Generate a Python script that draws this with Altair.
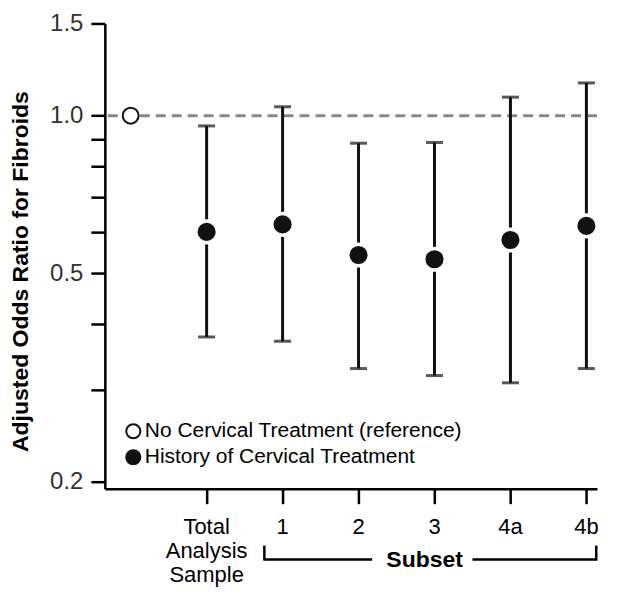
import altair as alt
import pandas as pd

# ---- data ----
groups = ["Reference", "Total", "1", "2", "3", "4a", "4b"]
positions = [0, 1, 2, 3, 4, 5, 6]
odds_ratio = [1.0, 0.600, 0.620, 0.542, 0.532, 0.579, 0.616]
ci_lower = [None, 0.378, 0.371, 0.329, 0.319, 0.309, 0.329]
ci_upper = [None, 0.956, 1.040, 0.886, 0.889, 1.085, 1.155]
series_names = ["No Cervical Treatment (reference)", "History of Cervical Treatment"]
series = [series_names[0]] + [series_names[1]] * 6

x_tick_positions = [1, 2, 3, 4, 5, 6]
x_tick_labels = ["Total\nAnalysis\nSample", "1", "2", "3", "4a", "4b"]
y_tick_values = [0.2, 0.3, 0.4, 0.5, 0.6, 0.7, 0.8, 0.9, 1.0, 1.5]
y_labelled = [0.2, 0.5, 1.0, 1.5]
reference_value = [1.0]

# subset bracket annotation (x in data units)
bracket_left = [1.76, 4.50]
bracket_right = [3.18, 6.13]
bracket_ends = [1.76, 6.13]
subset_label_x = [3.87]

W, H = 493, 466
FONT = "Liberation Sans"

df = pd.DataFrame({
    "group": groups, "pos": positions, "or": odds_ratio,
    "lo": ci_lower, "hi": ci_upper, "series": series,
})

xscale = alt.Scale(domain=[-0.34, 6.14], nice=False, zero=False)
yscale = alt.Scale(type="log", domain=[0.194, 1.5], nice=False)

x_enc = alt.X("pos:Q", scale=xscale,
              axis=alt.Axis(values=x_tick_positions, labels=False, title=None,
                            grid=False, tickSize=15, tickWidth=2.5, tickColor="black",
                            domainColor="black", domainWidth=2.5))

label_expr = "indexof([0.2, 0.5, 1, 1.5], datum.value) >= 0 ? format(datum.value, '.1f') : ''"

y_axis = alt.Axis(values=y_tick_values, labelExpr=label_expr, labelOverlap=False,
                  labelFontSize=24, labelColor="#333333", labelPadding=8,
                  tickSize=14, tickWidth=2.5, tickColor="black",
                  domainColor="black", domainWidth=2.5, grid=False,
                  title="Adjusted Odds Ratio for Fibroids", titleFontSize=23,
                  titleFontWeight="bold", titleColor="black",
                  titleX=-72, titleY=248, titleBaseline="bottom")

base = alt.Chart(df)

ref_line = alt.Chart(pd.DataFrame({"v": reference_value})).mark_rule(
    color="#888888", strokeWidth=3, strokeDash=[10, 6]
).encode(y=alt.Y("v:Q", scale=yscale, axis=y_axis))

bars = base.transform_filter("isValid(datum.lo)").mark_rule(
    color="#111111", strokeWidth=3
).encode(x=x_enc, y=alt.Y("lo:Q", scale=yscale), y2="hi:Q")

cap_lo = base.transform_filter("isValid(datum.lo)").mark_tick(
    color="#111111", orient="horizontal", size=17, thickness=3
).encode(x=alt.X("pos:Q", scale=xscale), y=alt.Y("lo:Q", scale=yscale))

cap_hi = base.transform_filter("isValid(datum.hi)").mark_tick(
    color="#111111", orient="horizontal", size=17, thickness=3
).encode(x=alt.X("pos:Q", scale=xscale), y=alt.Y("hi:Q", scale=yscale))

ref_cond = f"datum.series == '{series_names[0]}'"
points = base.mark_point(filled=True, opacity=1).encode(
    x=alt.X("pos:Q", scale=xscale),
    y=alt.Y("or:Q", scale=yscale),
    fill=alt.Fill("series:N",
                  scale=alt.Scale(domain=series_names, range=["white", "#111111"]),
                  legend=alt.Legend(title=None, orient="none", legendX=18, legendY=398,
                                    labelFontSize=21, labelColor="black", labelLimit=500,
                                    symbolSize=200, symbolStrokeColor="#111111",
                                    symbolStrokeWidth=2, symbolType="circle",
                                    rowPadding=3, labelOffset=1, padding=0)),
    stroke=alt.condition(ref_cond, alt.value("#111111"), alt.value("white")),
    strokeWidth=alt.condition(ref_cond, alt.value(2), alt.value(3.5)),
    size=alt.condition(ref_cond, alt.value(254), alt.value(470)),
)

xlab_df = pd.DataFrame({"pos": x_tick_positions, "label": x_tick_labels})
xlabels = alt.Chart(xlab_df).mark_text(
    fontSize=22, baseline="top", align="center", lineBreak="\n", lineHeight=24,
    color="black"
).encode(x=alt.X("pos:Q", scale=xscale), y=alt.value(H + 28), text="label:N")

br_df = pd.DataFrame({"a": bracket_left, "b": bracket_right})
bracket_h = alt.Chart(br_df).mark_rule(color="black", strokeWidth=2.5).encode(
    x=alt.X("a:Q", scale=xscale), x2="b:Q", y=alt.value(H + 71))

be_df = pd.DataFrame({"a": bracket_ends})
bracket_v = alt.Chart(be_df).mark_rule(color="black", strokeWidth=2.5).encode(
    x=alt.X("a:Q", scale=xscale), y=alt.value(H + 57), y2=alt.value(H + 72))

sub_df = pd.DataFrame({"a": subset_label_x, "t": ["Subset"]})
subset_text = alt.Chart(sub_df).mark_text(
    fontSize=23, fontWeight="bold", baseline="middle", align="center", color="black"
).encode(x=alt.X("a:Q", scale=xscale), y=alt.value(H + 71), text="t:N")

chart = alt.layer(
    ref_line, bars, cap_lo, cap_hi, points, xlabels, bracket_h, bracket_v, subset_text
).properties(
    width=W, height=H,
    autosize=alt.AutoSizeParams(type="none"),
    padding={"left": 97, "top": 15, "right": 20, "bottom": 110},
).configure(font=FONT).configure_view(stroke=None)

chart.save("out.html", embed_options={"renderer": "svg", "actions": False})
